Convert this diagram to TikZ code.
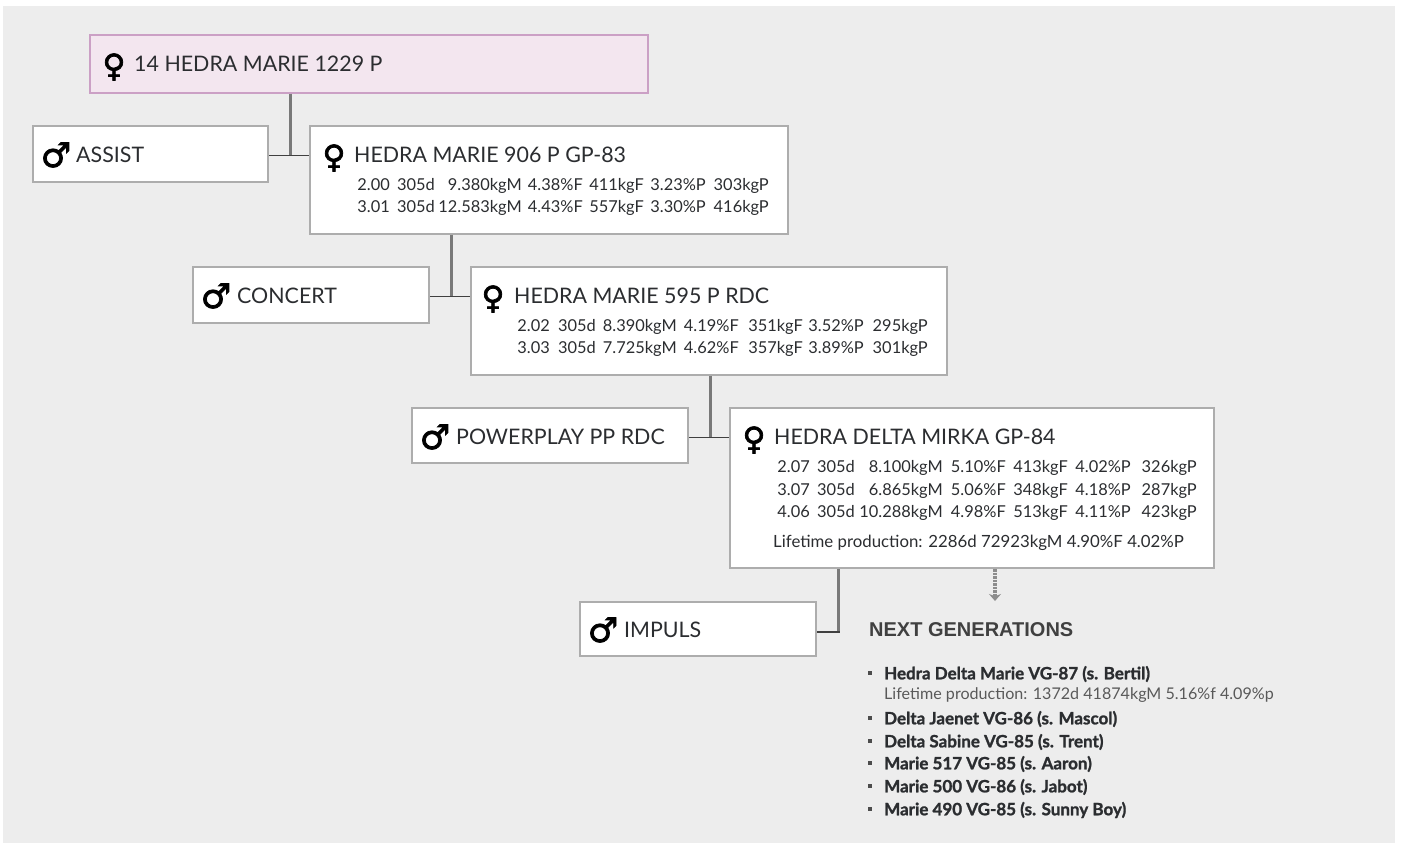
\documentclass[tikz,border=0pt]{standalone}
\usepackage{fontspec}
\usepackage{array}
\usetikzlibrary{arrows.meta}
\setmainfont{Lato}
\newfontfamily\symfont[FakeBold=2.2]{DejaVu Sans}
\newfontfamily\headfont{Liberation Sans}
\newfontfamily\heavyfont[FakeBold=1.3]{Lato Bold}
\definecolor{panelgray}{HTML}{EDEDED}
\definecolor{boxline}{HTML}{ADADAD}
\definecolor{rootfill}{HTML}{F3E6EF}
\definecolor{rootline}{HTML}{CBA0C5}
\definecolor{inkgray}{HTML}{2B2D30}
\newcolumntype{R}[1]{@{}w{r}{#1pt}}
\newcommand{\prodrows}[7]{\begin{tabular}{R{40}R{#1}R{#2}R{#3}R{#4}R{#5}R{#6}@{}}#7\end{tabular}}
\tikzset{
  cowbox/.style   = {shape=rectangle, draw=boxline, fill=white, line width=1.8pt,
                     anchor=north west, inner sep=0pt},
  rootbox/.style  = {cowbox, draw=rootline, fill=rootfill},
  cowname/.style  = {anchor=west, inner sep=0pt, text=inkgray, font=\fontsize{21.4}{25}\selectfont},
  damsym/.style   = {anchor=center, inner sep=0pt, text=black, font=\symfont\fontsize{31.5}{32}\selectfont},
  siresym/.style  = {damsym, font=\symfont\fontsize{34}{34}\selectfont},
  prod/.style     = {anchor=east, inner sep=0pt, text=inkgray, font=\fontsize{16.4}{22.5}\selectfont},
  lifeline/.style = {anchor=west, inner sep=0pt, text=inkgray, font=\fontsize{16.8}{20}\selectfont},
  lifegray/.style = {lifeline, text=black!65, font=\fontsize{16.1}{20}\selectfont},
  stem/.style     = {draw=gray!95!black, line width=3pt},
  tie/.style      = {draw=black!75, line width=1.6pt},
  nextgen/.style  = {draw=gray!90, line width=3.5pt, dash pattern=on 2.5pt off 1pt,
                     -{Stealth[length=7pt,width=12pt]}},
  headline/.style = {anchor=west, inner sep=0pt, text=black!75, font=\headfont\bfseries\fontsize{20}{24}\selectfont},
  child/.style    = {anchor=west, inner sep=0pt, text=inkgray, font=\heavyfont\fontsize{17}{20}\selectfont},
  dot/.style      = {shape=rectangle, fill=black!70, inner sep=0pt, minimum size=3.5pt}
}
\begin{document}
\begin{tikzpicture}[x=1pt,y=-1pt]
  \useasboundingbox (0,0) rectangle (1403,843);
  \fill[panelgray] (3,6) rectangle (1395,843);

  % boxes
  \node [rootbox, minimum width=558pt, minimum height=57.5pt] (root) at (88.7,34.3) {};
  \node [cowbox, minimum width=235pt, minimum height=55.5pt] (assist) at (32.3,125.3) {};
  \node [cowbox, minimum width=477.7pt, minimum height=107.5pt] (dam906) at (309.3,125.3) {};
  \node [cowbox, minimum width=235.7pt, minimum height=55.5pt] (concert) at (192.3,266.3) {};
  \node [cowbox, minimum width=475.5pt, minimum height=107.7pt] (dam595) at (470.3,266.3) {};
  \node [cowbox, minimum width=275.7pt, minimum height=54.7pt] (powerplay) at (411.3,407.3) {};
  \node [cowbox, minimum width=484pt, minimum height=160pt] (mirka) at (729,407.3) {};
  \node [cowbox, minimum width=236.3pt, minimum height=54.7pt] (impuls) at (579,600.7) {};

  % connectors
  \coordinate (join1) at (290.5,155.5);
  \coordinate (join2) at (451.5,296.5);
  \coordinate (join3) at (710.5,437.5);
  \coordinate (join4) at (838.5,632);
  \coordinate (arrowend) at (995,601);
  \draw [stem] (root.south -| join1) -- (join1);
  \draw [tie] (assist.east |- join1) -- (dam906.west |- join1);
  \draw [stem] (dam906.south -| join2) -- (join2);
  \draw [tie] (concert.east |- join2) -- (dam595.west |- join2);
  \draw [stem] (dam595.south -| join3) -- (join3);
  \draw [tie] (powerplay.east |- join3) -- (mirka.west |- join3);
  \draw [stem] (mirka.south -| join4) -- (join4);
  \draw [tie] (impuls.east |- join4) -- ([xshift=1.5pt]join4);
  \draw [nextgen] (mirka.south -| arrowend) -- (arrowend);

  % names
  \node [damsym] (rootsym) at (114,67) {♀};
  \node [cowname] (rootname) at (134,64) {14 HEDRA MARIE 1229 P};
  \node [siresym] (assistsym) at (56,155) {♂};
  \node [cowname] (assistname) at (76,155) {ASSIST};
  \node [damsym] (sym906) at (334,158) {♀};
  \node [cowname] (name906) at (354,155) {HEDRA MARIE 906 P GP-83};
  \node [siresym] (concertsym) at (216,296) {♂};
  \node [cowname] (concertname) at (237,296) {CONCERT};
  \node [damsym] (sym595) at (493,299) {♀};
  \node [cowname] (name595) at (514,296) {HEDRA MARIE 595 P RDC};
  \node [siresym] (powerplaysym) at (435,437) {♂};
  \node [cowname] (powerplayname) at (456,437) {POWERPLAY PP RDC};
  \node [damsym] (mirkasym) at (754,440) {♀};
  \node [cowname] (mirkaname) at (774,437) {HEDRA DELTA MIRKA GP-84};
  \node [siresym] (impulssym) at (603,630) {♂};
  \node [cowname] (impulsname) at (624,630) {IMPULS};

  % production
  \node [prod] (prod906) at (769,197) {\prodrows{45}{87}{61}{61}{62}{63}{2.00&305d&9.380kgM&4.38\%F&411kgF&3.23\%P&303kgP\\
    3.01&305d&12.583kgM&4.43\%F&557kgF&3.30\%P&416kgP}};
  \node [prod] (prod595) at (928,338) {\prodrows{46}{81}{62}{64}{61}{64}{2.02&305d&8.390kgM&4.19\%F&351kgF&3.52\%P&295kgP\\
    3.03&305d&7.725kgM&4.62\%F&357kgF&3.89\%P&301kgP}};
  \node [prod] (prodmirka) at (1197,490.5) {\prodrows{45}{88}{63}{62}{63}{66}{2.07&305d&8.100kgM&5.10\%F&413kgF&4.02\%P&326kgP\\
    3.07&305d&6.865kgM&5.06\%F&348kgF&4.18\%P&287kgP\\
    4.06&305d&10.288kgM&4.98\%F&513kgF&4.11\%P&423kgP}};
  \node [lifeline] (lifemirka) at (773,543) {Lifetime production: 2286d 72923kgM 4.90\%F 4.02\%P};

  % next generations
  \node [headline] (nexthead) at (869,630) {NEXT GENERATIONS};
  \foreach \y/\cname/\txt in {
    673/hedra/Hedra Delta Marie VG-87 (s. Bertil),
    718/jaenet/Delta Jaenet VG-86 (s. Mascol),
    741/sabine/Delta Sabine VG-85 (s. Trent),
    763/m517/Marie 517 VG-85 (s. Aaron),
    786/m500/Marie 500 VG-86 (s. Jabot),
    809/m490/Marie 490 VG-85 (s. Sunny Boy)}
  {
    \node [dot] (dot\cname) at (870,\y) {};
    \node [child] (\cname) at (884,\y+1) {\txt};
  }
  \node [lifegray] (lifehedra) at (884,695) {Lifetime production: 1372d 41874kgM 5.16\%f 4.09\%p};
\end{tikzpicture}
\end{document}
